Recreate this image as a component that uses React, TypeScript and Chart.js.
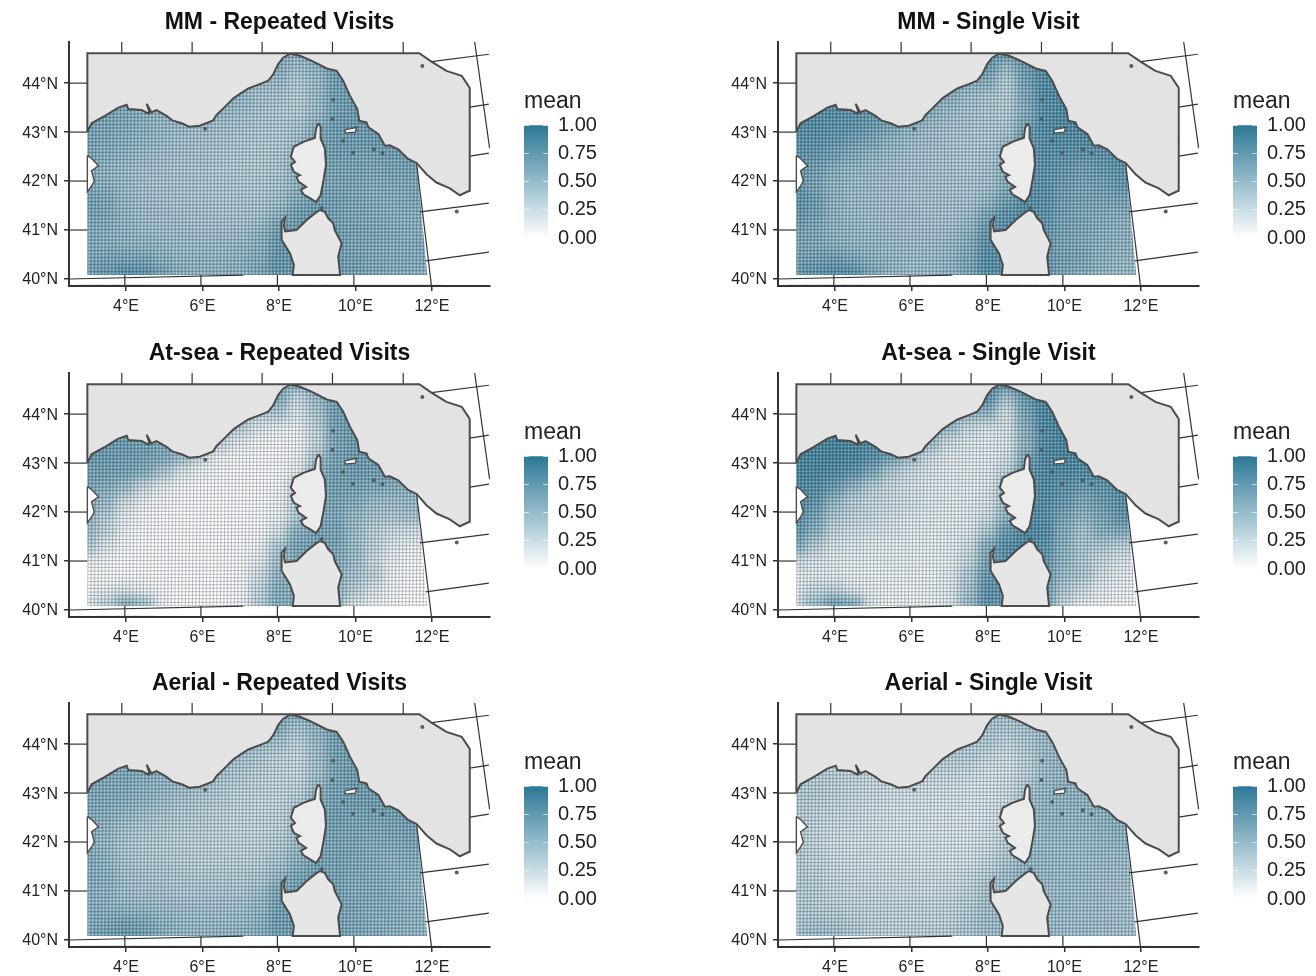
import React, { useEffect, useRef } from "react";
import { Chart, registerables } from "chart.js";

Chart.register(...registerables);

const FONT = "'Liberation Sans', Arial, sans-serif";
const lonCols = [3, 3.5, 4, 4.5, 5, 5.5, 6, 6.5, 7, 7.5, 8, 8.5, 9, 9.5, 10, 10.5, 11, 11.5, 12];
const latRows = [44.6, 44.3, 44.0, 43.7, 43.4, 43.1, 42.8, 42.5, 42.2, 41.9, 41.6, 41.3, 41.0, 40.7, 40.4, 40.1];
const lonTicks = [4, 6, 8, 10, 12];
const latTicks = [40, 41, 42, 43, 44];
const legendTicks = [0, 0.25, 0.5, 0.75, 1];

// mean x 100, rows north to south, columns west to east
const mmRepeated = [
  [55,55,55,55,55,55,55,55,55,60,62,62,68,70,72,72,72,72,72],
  [55,55,55,55,55,55,55,55,55,55,62,45,55,72,72,72,72,72,72],
  [55,55,55,55,55,55,55,55,55,50,50,38,50,72,74,74,74,74,74],
  [65,65,65,65,62,60,60,60,55,45,42,35,48,72,75,75,75,75,75],
  [68,68,65,60,55,55,52,52,48,42,38,36,48,72,76,76,76,76,76],
  [68,68,62,58,52,50,48,45,42,40,38,42,60,74,76,76,76,76,76],
  [68,64,60,55,50,46,44,42,40,38,38,46,66,74,74,76,76,76,76],
  [66,60,55,50,46,44,42,40,38,36,40,52,70,72,70,70,72,74,74],
  [62,55,50,46,44,42,40,38,38,36,40,55,70,68,68,66,68,70,70],
  [66,58,50,44,42,42,40,40,38,38,42,55,70,68,66,62,64,66,66],
  [72,66,52,46,44,42,42,40,40,40,46,62,74,70,66,62,60,64,64],
  [70,66,54,48,46,44,44,42,42,44,56,74,78,70,66,64,60,60,62],
  [62,60,54,50,48,48,46,46,46,52,72,76,76,72,68,66,62,60,60],
  [62,60,56,54,52,50,50,50,52,58,78,76,76,72,68,66,62,62,62],
  [66,68,70,68,58,54,54,54,56,62,80,76,76,74,70,64,62,62,62],
  [72,78,86,84,70,58,56,56,58,66,80,76,76,74,72,66,62,60,60],
];
const mmSingle = [
  [75,75,75,75,75,75,75,75,75,78,85,82,88,90,90,90,90,90,90],
  [75,75,75,75,75,75,75,75,75,75,78,50,75,90,90,90,90,90,90],
  [78,78,78,78,78,78,78,75,68,62,60,35,72,90,92,92,92,92,92],
  [85,85,85,85,82,78,72,66,60,48,42,34,65,90,92,92,92,92,92],
  [88,88,88,85,82,75,66,60,50,44,40,36,62,88,92,92,92,92,92],
  [88,88,85,82,76,68,58,50,45,42,40,40,70,90,92,92,92,92,92],
  [85,85,80,74,66,56,50,46,42,40,40,48,78,88,90,90,90,90,90],
  [82,80,72,62,55,50,46,44,42,40,42,55,82,88,85,82,84,88,88],
  [80,72,60,52,50,48,46,44,42,40,44,58,82,85,80,74,78,84,84],
  [80,68,54,50,48,46,44,44,42,42,46,60,85,85,76,70,72,80,80],
  [84,75,56,50,48,46,44,44,44,44,52,72,88,86,74,68,68,70,70],
  [82,72,56,50,48,46,46,44,44,48,68,85,90,84,72,66,62,60,62],
  [72,66,56,52,50,48,46,46,48,55,78,85,85,82,70,66,60,56,56],
  [68,64,58,54,52,50,48,48,52,62,85,85,85,80,68,64,58,56,54],
  [72,72,74,68,56,52,50,50,54,66,88,85,85,80,70,68,56,52,52],
  [76,82,88,84,68,54,50,50,55,68,88,85,85,80,68,60,54,50,50],
];
const atSeaRepeated = [
  [60,60,60,60,60,60,60,60,60,60,65,60,65,70,70,70,70,70,70],
  [60,60,60,60,60,60,60,60,60,60,62,25,50,72,72,72,72,72,72],
  [60,60,60,60,60,60,60,60,50,35,40,15,40,72,74,74,74,74,74],
  [70,70,70,70,60,50,40,40,35,15,8,8,30,70,74,74,74,74,74],
  [76,76,76,72,65,50,30,28,10,4,3,4,25,68,74,75,75,75,75],
  [76,76,74,72,65,48,22,6,3,2,2,6,40,70,75,75,75,75,75],
  [72,72,70,62,40,15,5,2,1,1,2,12,55,72,74,74,75,75,75],
  [68,62,48,25,10,3,1,1,1,1,4,30,60,72,70,66,62,60,60],
  [62,50,22,8,2,0,0,0,0,1,6,35,60,68,62,50,48,52,52],
  [55,35,10,2,0,0,0,0,0,1,8,35,62,66,52,42,40,44,44],
  [50,30,6,1,0,0,0,0,1,2,18,60,70,68,48,32,24,20,18],
  [40,15,2,0,0,0,0,0,1,6,38,68,72,68,50,30,14,8,6],
  [12,4,0,0,0,0,0,0,1,10,45,65,65,64,48,24,8,3,2],
  [3,1,0,0,0,0,0,0,2,20,55,60,60,60,44,32,6,2,1],
  [6,10,15,8,1,0,0,0,3,28,62,60,60,56,34,16,4,1,0],
  [15,30,62,45,5,0,0,0,4,32,62,60,60,50,18,6,2,0,0],
];
const atSeaSingle = [
  [80,80,80,80,80,80,80,80,80,85,90,85,92,95,95,95,95,95,95],
  [80,80,80,80,80,80,80,80,80,80,85,40,78,95,95,95,95,95,95],
  [85,85,85,85,85,85,85,80,70,55,55,20,70,95,96,96,96,96,96],
  [95,95,95,95,90,80,70,60,50,25,16,18,60,92,96,96,96,96,96],
  [96,96,96,95,90,80,62,50,22,14,12,15,55,90,95,96,96,96,96],
  [96,96,96,95,88,72,45,22,13,12,12,20,65,92,95,95,96,96,96],
  [95,95,92,85,65,38,24,16,12,12,14,30,78,92,92,90,92,95,95],
  [92,90,78,55,35,24,18,14,12,12,15,45,85,92,85,78,82,90,92],
  [90,82,55,34,26,24,20,14,12,12,18,50,85,90,80,65,75,85,88],
  [85,70,40,30,26,20,16,12,12,12,22,55,88,88,70,55,68,82,84],
  [82,60,28,22,18,16,12,12,12,14,38,78,92,90,62,42,60,65,60],
  [65,35,18,14,12,10,10,10,12,20,62,88,92,85,60,40,40,32,28],
  [25,16,12,10,9,9,9,9,10,25,68,85,85,82,55,38,25,15,12],
  [12,12,10,8,8,8,8,8,12,38,78,80,80,78,50,40,20,10,8],
  [15,25,30,15,8,7,7,8,14,42,85,80,80,75,40,22,10,6,5],
  [22,50,75,62,14,7,7,8,14,48,85,80,80,72,25,10,6,4,4],
];
const aerialRepeated = [
  [60,60,60,60,60,60,60,60,60,60,65,62,68,72,72,72,72,72,72],
  [60,60,60,60,60,60,60,60,60,60,62,42,55,72,74,74,74,74,74],
  [60,60,60,60,60,60,60,58,52,46,44,30,50,72,74,74,74,74,74],
  [62,62,62,62,60,58,54,50,44,38,30,26,45,70,74,74,74,74,74],
  [66,66,66,62,58,54,50,44,38,32,28,26,42,68,74,74,74,74,74],
  [66,66,64,58,54,50,44,38,32,30,28,30,52,70,74,74,74,74,74],
  [66,64,60,54,48,42,38,34,30,28,28,36,60,72,74,74,74,76,76],
  [64,60,52,46,40,36,34,30,28,28,30,42,66,72,70,70,72,74,74],
  [62,54,44,38,36,34,32,30,28,28,32,46,66,70,68,66,68,72,72],
  [62,52,40,36,34,32,30,30,30,30,36,50,68,68,66,62,62,66,66],
  [64,56,42,38,36,34,32,32,32,34,42,58,72,70,66,62,58,62,62],
  [62,58,46,42,40,38,36,36,36,38,52,68,74,70,64,62,58,56,56],
  [60,56,48,44,42,40,40,40,40,46,66,72,72,70,64,64,60,54,52],
  [60,56,52,50,48,46,46,46,46,52,72,72,72,68,66,62,60,56,54],
  [62,64,68,64,54,50,50,50,50,56,74,72,72,70,66,60,60,56,54],
  [66,72,78,74,60,54,54,54,54,60,74,72,72,70,66,62,58,56,54],
];
const aerialSingle = [
  [30,30,30,30,30,30,30,30,30,35,42,45,48,50,52,52,52,52,52],
  [30,30,30,30,30,30,30,30,30,32,42,38,42,50,52,52,52,52,52],
  [30,30,30,30,30,30,30,35,38,38,38,28,38,50,54,54,54,54,54],
  [30,30,30,30,30,30,30,36,36,34,26,20,32,48,54,54,54,54,54],
  [34,34,34,30,28,26,28,30,28,24,18,20,30,48,54,56,56,56,56],
  [36,36,32,28,26,24,22,22,20,18,18,22,38,52,56,56,56,56,56],
  [36,34,30,26,24,20,18,18,18,17,18,24,44,54,56,56,56,58,58],
  [36,30,26,24,20,18,17,17,16,16,18,28,48,54,54,54,58,60,60],
  [36,28,22,22,20,18,17,16,16,16,20,30,48,52,52,52,54,58,58],
  [36,28,22,20,20,18,18,18,17,17,22,34,50,50,50,50,52,54,54],
  [36,30,24,22,20,20,20,18,18,20,26,40,54,52,50,50,50,50,50],
  [36,32,26,24,22,22,22,22,22,26,36,48,56,52,50,50,48,48,48],
  [36,34,28,26,26,24,24,24,24,30,42,48,50,50,50,50,48,46,46],
  [36,34,30,28,28,28,28,28,28,34,46,48,50,50,50,48,48,46,46],
  [38,40,38,34,30,30,30,30,30,38,48,48,50,50,48,48,48,46,46],
  [42,50,48,40,32,30,30,32,34,40,48,48,50,50,48,48,46,46,46],
];

// Geography, [lon, lat]
const mainland = [
  [2.99,43.0],[3.1,43.18],[3.45,43.33],[3.8,43.5],[4.02,43.56],[4.06,43.47],[4.41,43.45],[4.58,43.38],[4.6,43.44],[4.54,43.58],[4.63,43.45],[4.66,43.4],[4.8,43.45],[5.06,43.33],[5.21,43.24],[5.46,43.18],[5.65,43.11],[5.93,43.13],[6.28,43.24],[6.37,43.35],[6.54,43.48],[6.81,43.69],[6.98,43.78],[7.2,43.89],[7.5,43.98],[7.72,44.05],[7.85,44.18],[7.98,44.39],[8.11,44.52],[8.29,44.6],[8.55,44.56],[8.85,44.46],[9.25,44.3],[9.51,44.25],[9.68,44.05],[9.86,43.74],[10.05,43.47],[10.1,43.23],[10.29,43.2],[10.34,43.1],[10.6,42.96],[10.77,42.72],[10.9,42.73],[11.12,42.65],[11.38,42.45],[11.6,42.37],[11.86,42.14],[12.12,41.97],[12.47,41.85],[12.73,41.71],[12.98,41.8],[12.99,43.9],[12.95,43.95],[12.78,44.15],[12.38,44.25],[11.99,44.44],[11.67,44.61],[2.99,44.61],[2.99,43.0],
];
const frontier = [[6.53,44.6],[6.63,44.42],[6.81,44.32],[7.07,44.23],[7.31,44.27],[7.29,44.08],[7.15,43.89]];
const corsica = [
  [9.03,43.18],[9.09,43.11],[9.09,42.87],[9.2,42.67],[9.23,42.33],[9.16,41.99],[9.09,41.71],[8.97,41.57],[8.81,41.65],[8.64,41.73],[8.57,41.82],[8.71,41.88],[8.51,41.99],[8.46,42.09],[8.55,42.12],[8.39,42.19],[8.31,42.33],[8.42,42.39],[8.31,42.5],[8.39,42.7],[8.64,42.8],[8.85,42.86],[8.94,42.88],[8.97,43.07],[9.03,43.18],
];
const sardinia = [
  [9.07,41.41],[9.2,41.37],[9.29,41.24],[9.42,41.14],[9.46,41.0],[9.64,40.73],[9.55,40.46],[9.6,40.08],[8.36,40.08],[8.39,40.29],[8.29,40.52],[8.07,40.8],[8.07,41.0],[8.07,41.17],[8.16,41.25],[8.13,41.1],[8.16,40.97],[8.46,41.0],[8.72,41.2],[8.94,41.34],[9.07,41.41],
];
const westIsland = [[2.99,42.52],[3.1,42.46],[3.28,42.31],[3.1,42.21],[3.17,42.0],[3.1,41.9],[2.99,41.78],[2.99,42.52]];
const elba = [[9.73,43.05],[9.88,43.07],[10.03,43.1],[10.0,43.0],[9.73,42.98],[9.73,43.05]];
const islets = [[9.42,43.66],[9.4,43.27],[9.68,42.82],[9.94,42.58],[10.48,42.65],[10.71,42.57],[11.75,44.35],[12.65,41.38],[9.12,41.45],[6.07,43.07]];
const seaOutline = [[2.99,40.08],[2.99,44.61],[11.6,44.61],[11.6,42.37],[11.88,40.08]];
const graticule = [
  [[3.89,44.61],[3.89,44.84]],[[5.73,44.61],[5.73,44.84]],[[7.56,44.61],[7.56,44.84]],[[9.4,44.61],[9.4,44.84]],[[11.25,44.61],[11.25,44.84]],
  [[13.12,44.84],[13.51,42.67]],[[11.6,42.37],[11.99,39.857]],
  [[3.97,40.08],[3.97,39.857]],[[5.96,40.08],[5.96,39.857]],[[7.96,40.08],[7.96,39.857]],[[9.96,40.08],[9.96,39.857]],
  [[2.51,44],[2.99,44]],[[2.51,43],[2.99,43]],[[2.51,42],[2.99,42]],[[2.51,41],[2.99,41]],[[2.51,40],[7.07,40.08]],
  [[11.99,44.44],[13.49,44.59]],[[12.99,43.51],[13.49,43.57]],[[12.99,42.51],[13.49,42.57]],[[11.69,41.37],[13.49,41.55]],[[11.84,40.37],[13.49,40.55]],
];

const ramp = (v: number) => {
  const t = v / 100;
  const mix = (a: number, b: number) => Math.round(a + (b - a) * t);
  return `rgb(${mix(255, 44)},${mix(255, 120)},${mix(255, 150)})`;
};
const asXY = (pts: number[][]) => pts.map(([x, y]) => ({ x, y }));

const seaPlugin = {
  id: "seaSmooth",
  afterDatasetDraw(chart: any, args: any) {
    if (args.index !== 0) return;
    const { ctx, canvas, scales } = chart;
    const X = (v: number) => scales.x.getPixelForValue(v);
    const Y = (v: number) => scales.y.getPixelForValue(v);
    const tmp = document.createElement("canvas");
    tmp.width = canvas.width;
    tmp.height = canvas.height;
    tmp.getContext("2d")!.drawImage(canvas, 0, 0);
    ctx.save();
    ctx.clearRect(X(2.6), Y(44.8), X(12.4) - X(2.6), Y(39.9) - Y(44.8));
    ctx.beginPath();
    seaOutline.forEach(([a, b], i) => (i ? ctx.lineTo(X(a), Y(b)) : ctx.moveTo(X(a), Y(b))));
    ctx.closePath();
    ctx.clip();
    ctx.filter = "blur(5px)";
    ctx.drawImage(tmp, 0, 0);
    ctx.filter = "none";
    const mesh = (shift: number, color: string) => {
      ctx.strokeStyle = color;
      ctx.lineWidth = 1;
      ctx.beginPath();
      for (let a = 2.99 + shift * 0.0915; a < 12; a += 0.0915) {
        ctx.moveTo(X(a), Y(40.08));
        ctx.lineTo(X(a + 0.06), Y(44.61));
      }
      for (let b = 40.08 + shift * 0.0715; b < 44.61; b += 0.0715) {
        ctx.moveTo(X(2.99), Y(b));
        ctx.lineTo(X(12), Y(b + 0.02));
      }
      ctx.stroke();
    };
    mesh(0.5, "rgba(255,255,255,0.22)");
    mesh(0, "rgba(62,72,82,0.32)");
    ctx.restore();
  },
};

const lineSet = (pts: number[][], extra: any) => ({
  type: "line",
  data: asXY(pts),
  pointRadius: 0,
  tension: 0,
  fill: false,
  ...extra,
});

const softEdge = "blur(0.45px)";

function MapChart({ title, values, left, top }: any) {
  const ref = useRef<HTMLCanvasElement>(null);
  useEffect(() => {
    const bars: any[] = [];
    const colors: string[] = [];
    latRows.forEach((lat, r) =>
      lonCols.forEach((lon, c) => {
        bars.push({ x: lon, y: [r === latRows.length - 1 ? lat - 0.2 : lat - 0.16, lat + 0.16] });
        colors.push(ramp(values[r][c]));
      })
    );
    const coast = { borderColor: "#4c4c4c", borderWidth: 2, order: 1 };
    const chart = new Chart(ref.current!, {
      type: "bar",
      data: {
        datasets: [
          { type: "bar", data: bars, backgroundColor: colors, borderWidth: 0, barThickness: 20, order: 10 },
          ...graticule.map((g) => lineSet(g, { borderColor: "#333", borderWidth: 1.2, order: 5 })),
          lineSet(mainland, { ...coast, backgroundColor: "#e3e3e3", fill: "shape" }),
          lineSet(frontier, coast),
          lineSet(corsica, { ...coast, backgroundColor: "#ebebeb", fill: "shape" }),
          lineSet(sardinia, { ...coast, backgroundColor: "#e6e6e6", fill: "shape" }),
          lineSet(westIsland, { ...coast, borderWidth: 1.4, backgroundColor: "#fff", fill: "shape" }),
          lineSet(elba, { ...coast, borderWidth: 1.4, backgroundColor: "#f4f4f4", fill: "shape" }),
          { type: "line", data: asXY(islets), showLine: false, pointRadius: 2, pointBackgroundColor: "#4f5f68", pointBorderWidth: 0, order: 0 },
        ],
      } as any,
      options: {
        responsive: false,
        animation: false,
        events: [],
        layout: { padding: { right: 10 } },
        plugins: {
          legend: { display: false },
          tooltip: { enabled: false },
          title: {
            display: true,
            text: title,
            fullSize: false,
            color: "#111",
            font: { family: FONT, size: 23, weight: "bold", lineHeight: 1.2 },
            padding: { top: 8.5, bottom: 5.9 },
          },
        },
        scales: {
          x: {
            type: "linear",
            min: 2.51,
            max: 13.52,
            offset: false,
            afterBuildTicks: (s: any) => { s.ticks = lonTicks.map((value) => ({ value })); },
            afterFit: (s: any) => { s.height = 34; s.paddingLeft = 0; s.paddingRight = 0; },
            grid: { drawOnChartArea: false, offset: false, color: "#333", lineWidth: 1.5, tickLength: 5 },
            border: { color: "#333", width: 2 },
            ticks: { color: "#222", font: { family: FONT, size: 16 }, padding: 6, maxRotation: 0, autoSkip: false, callback: (v: any) => `${v}°E` },
          },
          y: {
            type: "linear",
            min: 39.857,
            max: 44.84,
            afterBuildTicks: (s: any) => { s.ticks = latTicks.map((value) => ({ value })); },
            afterFit: (s: any) => { s.width = 69; s.paddingTop = 0; s.paddingBottom = 0; },
            grid: { drawOnChartArea: false, color: "#333", lineWidth: 1.5, tickLength: 5 },
            border: { color: "#333", width: 2 },
            ticks: { color: "#222", font: { family: FONT, size: 16 }, padding: 6, labelOffset: 1, autoSkip: false, callback: (v: any) => `${v}°N` },
          },
        },
      } as any,
      plugins: [seaPlugin],
    });
    return () => chart.destroy();
  }, []);
  return <canvas ref={ref} width={500} height={320} style={{ position: "absolute", left, top, display: "block", filter: softEdge }} />;
}

function MeanLegend({ left, top }: any) {
  const ref = useRef<HTMLCanvasElement>(null);
  useEffect(() => {
    const chart = new Chart(ref.current!, {
      type: "bar",
      data: {
        labels: ["mean"],
        datasets: [
          {
            data: [[0, 1]],
            borderWidth: 0,
            barPercentage: 1,
            categoryPercentage: 1,
            backgroundColor: (c: any) => {
              const a = c.chart.chartArea;
              if (!a) return ramp(100);
              const g = c.chart.ctx.createLinearGradient(0, a.bottom, 0, a.top);
              g.addColorStop(0, ramp(0));
              g.addColorStop(1, ramp(100));
              return g;
            },
          },
        ],
      } as any,
      options: {
        responsive: false,
        animation: false,
        events: [],
        layout: { padding: { bottom: 14 } },
        plugins: {
          legend: { display: false },
          tooltip: { enabled: false },
          title: {
            display: true,
            text: "mean",
            align: "start",
            fullSize: true,
            color: "#222",
            font: { family: FONT, size: 23, weight: "normal", lineHeight: 1.2 },
            padding: { top: 8, bottom: 9.6 },
          },
        },
        scales: {
          x: { display: false },
          y: {
            position: "right",
            min: 0,
            max: 1,
            afterBuildTicks: (s: any) => { s.ticks = legendTicks.map((value) => ({ value })); },
            afterFit: (s: any) => { s.width = 59; s.paddingTop = 0; s.paddingBottom = 0; },
            grid: { color: "rgba(255,255,255,0.65)", drawTicks: false, z: 1 },
            border: { display: false, dash: [5, 14] },
            ticks: { color: "#222", font: { family: FONT, size: 20 }, padding: 10, autoSkip: false, callback: (v: any) => Number(v).toFixed(2) },
          },
        },
      } as any,
    });
    return () => chart.destroy();
  }, []);
  return <canvas ref={ref} width={83} height={172} style={{ position: "absolute", left, top, display: "block", filter: softEdge }} />;
}

const panels = [
  { title: "MM - Repeated Visits", values: mmRepeated, col: 0, row: 0 },
  { title: "MM - Single Visit", values: mmSingle, col: 1, row: 0 },
  { title: "At-sea - Repeated Visits", values: atSeaRepeated, col: 0, row: 1 },
  { title: "At-sea - Single Visit", values: atSeaSingle, col: 1, row: 1 },
  { title: "Aerial - Repeated Visits", values: aerialRepeated, col: 0, row: 2 },
  { title: "Aerial - Single Visit", values: aerialSingle, col: 1, row: 2 },
];
const colLeft = [0, 709];
const rowTop = [0, 331, 661];

export default function App() {
  return (
    <div style={{ position: "absolute", left: 0, top: 0, width: 1316, height: 976, background: "#fff", overflow: "hidden" }}>
      {panels.map((p) => (
        <React.Fragment key={p.title}>
          <MapChart title={p.title} values={p.values} left={colLeft[p.col]} top={rowTop[p.row]} />
          <MeanLegend left={colLeft[p.col] + 524} top={rowTop[p.row] + 80} />
        </React.Fragment>
      ))}
    </div>
  );
}
